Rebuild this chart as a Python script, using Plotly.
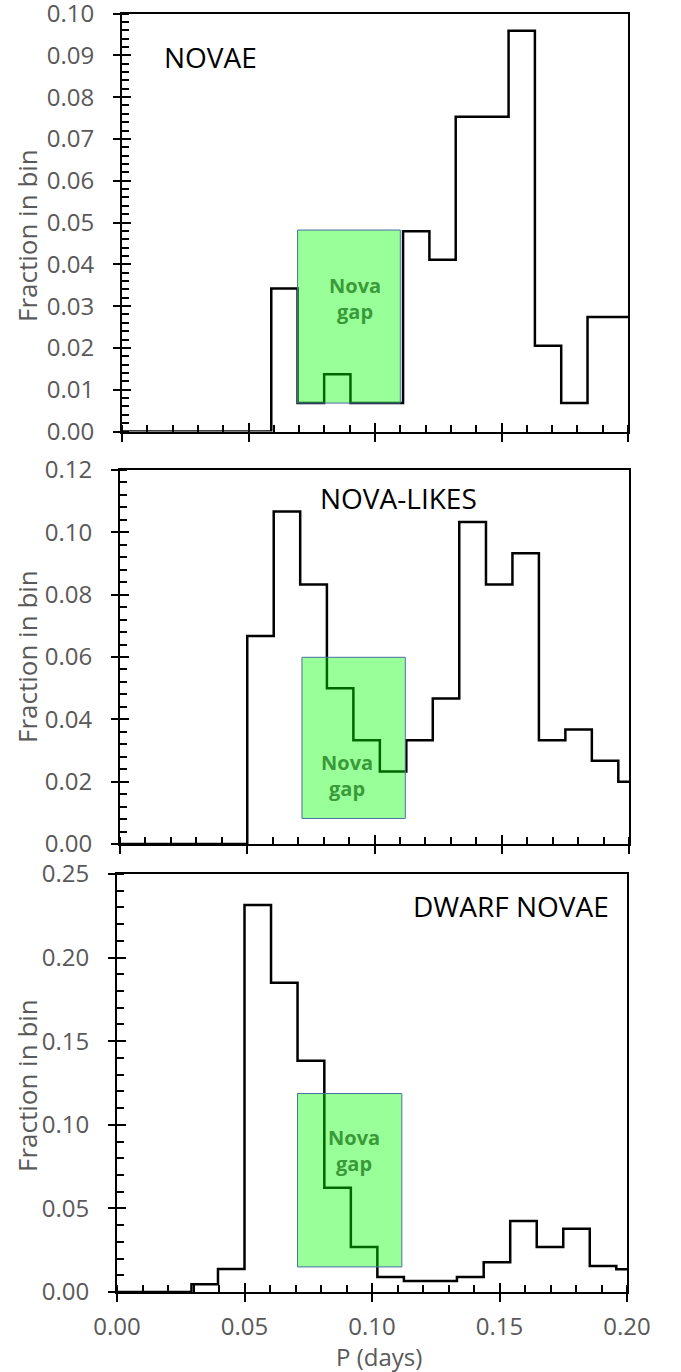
import plotly.graph_objects as go

# ---------------- data ----------------
novae_edges = [0.0, 0.0590, 0.0694, 0.0799, 0.0903, 0.1007, 0.1111, 0.1215, 0.1319,
               0.1424, 0.1528, 0.1632, 0.1736, 0.1840, 0.1944]
novae_frac = [0.0, 0.0342, 0.0068, 0.0137, 0.0068, 0.0068, 0.0479, 0.0411, 0.0753,
              0.0753, 0.0959, 0.0205, 0.0068, 0.0274, 0.0274]

nl_edges = [0.0, 0.0500, 0.0604, 0.0708, 0.0813, 0.0917, 0.1021, 0.1125, 0.1229,
            0.1333, 0.1438, 0.1542, 0.1646, 0.1750, 0.1854, 0.1958]
nl_frac = [0.0, 0.0667, 0.1067, 0.0833, 0.0500, 0.0333, 0.0233, 0.0333, 0.0467,
           0.1033, 0.0833, 0.0933, 0.0333, 0.0367, 0.0267, 0.0200]

dn_edges = [0.0, 0.0292, 0.0396, 0.0500, 0.0604, 0.0708, 0.0813, 0.0917, 0.1021,
            0.1125, 0.1229, 0.1333, 0.1438, 0.1542, 0.1646, 0.1750, 0.1854, 0.1958]
dn_frac = [0.0, 0.0046, 0.0138, 0.2314, 0.1850, 0.1383, 0.0623, 0.0269, 0.0090,
           0.0066, 0.0066, 0.0090, 0.0178, 0.0425, 0.0269, 0.0379, 0.0156, 0.0136]

x_max = 0.20
x_tickvals = [0.00, 0.05, 0.10, 0.15, 0.20]
panel_names = ["NOVAE", "NOVA-LIKES", "DWARF NOVAE"]
y_max = [0.10, 0.12, 0.25]
novae_yticks = [0.00, 0.01, 0.02, 0.03, 0.04, 0.05, 0.06, 0.07, 0.08, 0.09, 0.10]
nl_yticks = [0.00, 0.02, 0.04, 0.06, 0.08, 0.10, 0.12]
dn_yticks = [0.00, 0.05, 0.10, 0.15, 0.20, 0.25]
y_ticks = [novae_yticks, nl_yticks, dn_yticks]
y_minor = [0.002, 0.004, 0.01]

# nova gap boxes (x0, x1, y0, y1)
gap_x0 = [0.0694, 0.0715, 0.0708]
gap_x1 = [0.1100, 0.1121, 0.1117]
gap_y0 = [0.0068, 0.0082, 0.0150]
gap_y1 = [0.0482, 0.0599, 0.1187]
gap_text_x = [0.0920, 0.0890, 0.0929]
gap_text_y = [0.0318, 0.0221, 0.0848]

# ---------------- layout geometry (pixels) ----------------
W, H = 681, 1372
panel_left = [122, 120, 117]
panel_right = [628, 629, 627]
panel_top = [13.5, 470, 874]
panel_bot = [431.5, 844, 1292]
label_cx = [210, 398, 511]
label_cy = [57, 498, 906]
ytitle_cy = [236, 657, 1086]
ytitle_cx = 27

def px_x(p):
    return p / W

def px_y(p):
    return (H - p) / H

FONT = "Open Sans"
GREY = "#595959"

def sfx(n):
    return "" if n == 1 else str(n)

fig = go.Figure()
series = [(novae_edges, novae_frac), (nl_edges, nl_frac), (dn_edges, dn_frac)]
layout = {}
annotations = []
shapes = []

for i, (edges, frac) in enumerate(series):
    n = i + 1
    s = sfx(n)
    so = str(n + 3)
    xs = list(edges) + [x_max]
    ys = list(frac) + [frac[-1]]
    fig.add_trace(go.Scatter(
        x=xs, y=ys, mode="lines", line=dict(color="black", width=2.5, shape="hv"),
        xaxis="x" + s, yaxis="y" + s, showlegend=False, hoverinfo="skip",
    ))
    last = (i == 2)
    xdom = [px_x(panel_left[i]), px_x(panel_right[i])]
    ydom = [px_y(panel_bot[i]), px_y(panel_top[i])]
    ytxt = [f"{v:.2f}" for v in y_ticks[i]]
    xtxt = [f"{v:.2f}" for v in x_tickvals]
    layout["xaxis" + s] = dict(
        domain=xdom, anchor="y" + s, range=[0, x_max], automargin=False,
        showline=True, linecolor="black", linewidth=2, mirror=True,
        ticks="outside", ticklen=8, tickwidth=1.5, tickcolor="black",
        tickmode="array", tickvals=x_tickvals, ticktext=xtxt,
        showticklabels=last, tickfont=dict(family=FONT, size=24, color=GREY),
        ticklabelstandoff=4, ticklabeloverflow="allow",
        minor=dict(ticks="inside", dtick=0.01, tick0=0, ticklen=7, tickwidth=1.5, tickcolor="black"),
        showgrid=False, zeroline=False,
    )
    layout["yaxis" + s] = dict(
        domain=ydom, anchor="x" + s, range=[0, y_max[i]], automargin=False,
        showline=True, linecolor="black", linewidth=2, mirror=True,
        ticks="outside", ticklen=7, tickwidth=1.5, tickcolor="black",
        tickmode="array", tickvals=y_ticks[i], ticktext=ytxt,
        tickfont=dict(family=FONT, size=24, color=GREY),
        ticklabelstandoff=14, ticklabeloverflow="allow",
        minor=dict(ticks="inside", dtick=y_minor[i], tick0=0, ticklen=7, tickwidth=1.5, tickcolor="black"),
        showgrid=False, zeroline=False,
    )
    # overlay axes to give crossing major ticks (inside part)
    layout["xaxis" + so] = dict(
        domain=xdom, overlaying="x" + s, anchor="y" + s, range=[0, x_max], side="bottom",
        automargin=False,
        ticks="inside", ticklen=9, tickwidth=1.5, tickcolor="black",
        tickmode="array", tickvals=x_tickvals, showticklabels=False, showline=False,
        showgrid=False, zeroline=False,
    )
    layout["yaxis" + so] = dict(
        domain=ydom, overlaying="y" + s, anchor="x" + s, range=[0, y_max[i]], side="left",
        automargin=False,
        ticks="inside", ticklen=9, tickwidth=1.5, tickcolor="black",
        tickmode="array", tickvals=y_ticks[i], showticklabels=False, showline=False,
        showgrid=False, zeroline=False,
    )
    fig.add_trace(go.Scatter(
        x=[None], y=[None], xaxis="x" + so, yaxis="y" + so,
        showlegend=False, hoverinfo="skip",
    ))
    shapes.append(dict(
        type="rect", xref="x" + s, yref="y" + s,
        x0=gap_x0[i], x1=gap_x1[i], y0=gap_y0[i], y1=gap_y1[i],
        fillcolor="rgba(0,255,0,0.40)", line=dict(color="#4A6FA5", width=1), layer="above",
    ))
    annotations.append(dict(
        x=gap_text_x[i], y=gap_text_y[i], xref="x" + s, yref="y" + s,
        text="<b>Nova</b><br><b>gap</b>", showarrow=False,
        font=dict(family=FONT, size=20, color="#3A9A3A"), align="center",
    ))
    annotations.append(dict(
        x=px_x(label_cx[i]), y=px_y(label_cy[i]), xref="paper", yref="paper",
        text=panel_names[i], showarrow=False, xanchor="center", yanchor="middle",
        font=dict(family=FONT, size=28, color="black"),
    ))
    annotations.append(dict(
        x=px_x(ytitle_cx), y=px_y(ytitle_cy[i]), xref="paper", yref="paper",
        text="Fraction in bin", textangle=-90, showarrow=False,
        xanchor="center", yanchor="middle",
        font=dict(family=FONT, size=26, color=GREY),
    ))

annotations.append(dict(
    x=px_x(379), y=px_y(1356), xref="paper", yref="paper",
    text="P (days)", showarrow=False, xanchor="center", yanchor="middle",
    font=dict(family=FONT, size=24, color=GREY),
))

fig.update_layout(
    width=W, height=H,
    margin=dict(l=0, r=0, t=0, b=0, autoexpand=False),
    paper_bgcolor="white", plot_bgcolor="white",
    shapes=shapes, annotations=annotations,
    **layout,
)

fig.write_html("out.html")
